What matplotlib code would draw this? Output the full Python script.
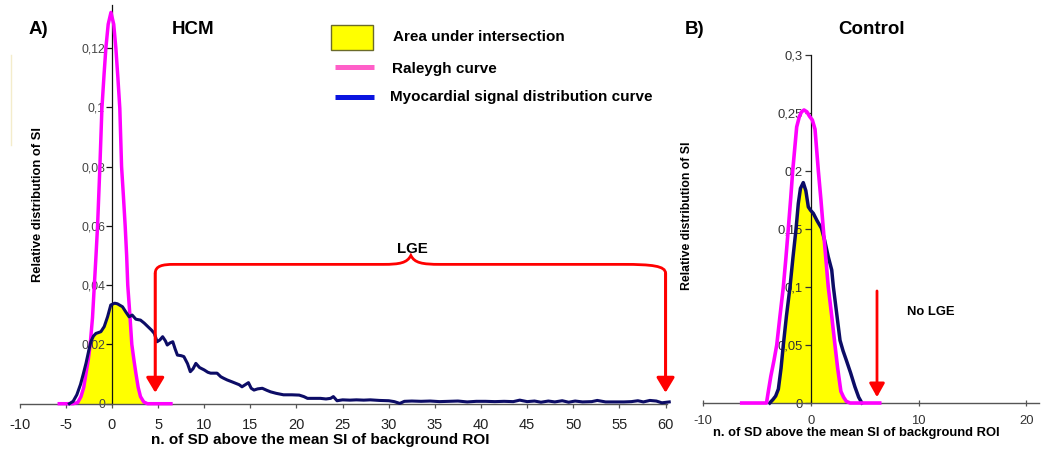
import numpy as np
import matplotlib
matplotlib.use("Agg")
import matplotlib.pyplot as plt
from matplotlib.path import Path
from matplotlib.patches import PathPatch, Rectangle
from matplotlib.lines import Line2D

plt.rcParams['font.family'] = ['Liberation Sans', 'DejaVu Sans']

# ---------------- DATA ----------------
# Panel A (HCM)
hcm_rayleigh_x = [-5.7, -4.2, -3.7, -3.35, -3.05, -2.8, -2.55, -2.35, -2.1, -1.9, -1.72, -1.55,
                  -1.3, -1.08, -0.85, -0.65, -0.4, -0.1, 0.2, 0.43, 0.65, 0.86, 1.05, 1.25,
                  1.44, 1.6, 1.72, 1.95, 2.16, 2.4, 2.6, 2.85, 3.1, 3.45, 3.85, 4.3, 6.4]
hcm_rayleigh_y = [0, 0, 0.0004, 0.0024, 0.0055, 0.0103, 0.015, 0.02, 0.029, 0.04, 0.05, 0.06,
                  0.08, 0.0996, 0.111, 0.12, 0.128, 0.132, 0.128, 0.12, 0.11, 0.0996, 0.08, 0.07,
                  0.06, 0.05, 0.04, 0.03, 0.02, 0.0145, 0.0103, 0.0055, 0.0024, 0.0006, 0, 0, 0]

hcm_myo_x = [-4.6, -4.2, -3.8, -3.4, -3.1, -2.8, -2.5, -2.27, -2.0, -1.73, -1.45, -1.19, -0.83,
             -0.47, -0.12, 0.3, 0.6, 1.15, 1.5, 1.87, 2.2, 2.6, 3.1, 3.5, 3.9, 4.3, 4.6, 4.9,
             5.2, 5.5, 5.8, 6.0, 6.3, 6.6, 6.85, 7.1, 7.5, 7.8, 8.2, 8.5, 8.8, 9.1, 9.5, 10.0,
             10.4, 10.7, 11.1, 11.4, 11.8, 12.1, 12.5, 13.0, 13.4, 13.8, 14.1, 14.5, 14.8,
             15.1, 15.4, 15.8, 16.3, 16.8, 17.2, 17.8, 18.6, 19.5, 20.3, 20.8, 21.2, 22.0,
             22.6, 23.2, 23.7, 24.0, 24.4, 25.0, 25.8, 26.5, 27.3, 28.0, 29.0, 30.0, 30.6,
             31.2, 31.7, 32.5, 33.5, 34.5, 35.5, 36.5, 37.5, 38.5, 39.5, 40.5, 41.5, 42.5,
             43.5, 44.2, 45.0, 45.8, 46.5, 47.3, 48.0, 48.8, 49.5, 50.2, 51.0, 52.0, 52.6,
             53.5, 54.5, 55.5, 56.3, 57.0, 57.6, 58.3, 59.0, 59.6, 60.4]
hcm_myo_y = [0, 0.0008, 0.003, 0.0065, 0.010, 0.0137, 0.018, 0.021, 0.0228, 0.0237, 0.024,
             0.0243, 0.026, 0.0293, 0.0333, 0.0339, 0.0337, 0.0327, 0.031, 0.0293, 0.0299,
             0.0285, 0.0282, 0.0272, 0.026, 0.0248, 0.0237, 0.0209, 0.0215, 0.0226, 0.0212,
             0.0198, 0.0205, 0.0209, 0.0185, 0.0164, 0.0162, 0.0159, 0.0135, 0.0108, 0.0118,
             0.0136, 0.0122, 0.0114, 0.0106, 0.0103, 0.0103, 0.0103, 0.0091, 0.0086, 0.008,
             0.0074, 0.0069, 0.0064, 0.0057, 0.0065, 0.0071, 0.0052, 0.0046, 0.005, 0.0052,
             0.0045, 0.004, 0.0035, 0.003, 0.003, 0.0029, 0.0024, 0.0018, 0.0018, 0.0018,
             0.0016, 0.0018, 0.0024, 0.001, 0.0013, 0.0012, 0.0013, 0.0012, 0.0013, 0.0011,
             0.0010, 0.0007, 0.0001, 0.0008, 0.0009, 0.0008, 0.0009, 0.0007, 0.0008, 0.0009,
             0.0006, 0.0008, 0.0008, 0.0007, 0.0008, 0.0007, 0.0012, 0.0007, 0.0009, 0.0005,
             0.0009, 0.0006, 0.001, 0.0005, 0.0009, 0.0006, 0.0007, 0.0011, 0.0006, 0.0006,
             0.0006, 0.0007, 0.0010, 0.0006, 0.0011, 0.0009, 0.0003, 0.0006]

# Panel B (Control)
ctl_rayleigh_x = [-6.4, -4.1, -3.93, -3.7, -3.4, -3.15, -2.85, -2.54, -2.3, -2.08, -1.85, -1.67,
                  -1.3, -1.05, -0.85, -0.62, -0.35, -0.1, 0.15, 0.4, 0.71, 0.95, 1.17, 1.4,
                  1.63, 1.95, 2.25, 2.5, 2.8, 3.05, 3.3, 3.65, 6.4]
ctl_rayleigh_y = [0, 0, 0.01, 0.023, 0.037, 0.05, 0.075, 0.1, 0.125, 0.15, 0.177, 0.2,
                  0.238, 0.247, 0.251, 0.2526, 0.251, 0.247, 0.244, 0.236, 0.2, 0.175, 0.15,
                  0.125, 0.1, 0.075, 0.05, 0.03, 0.01, 0.005, 0.0015, 0, 0]

ctl_myo_x = [-3.8, -3.5, -3.25, -3.0, -2.75, -2.54, -2.25, -1.92, -1.65, -1.36, -1.15, -0.95,
             -0.69, -0.45, -0.22, 0.0, 0.24, 0.6, 1.0, 1.3, 1.63, 1.95, 2.1, 2.4, 2.72, 3.0,
             3.3, 3.7, 4.1, 4.45, 4.75]
ctl_myo_y = [0, 0.003, 0.006, 0.012, 0.03, 0.05, 0.075, 0.1, 0.125, 0.15, 0.172, 0.185,
             0.19, 0.183, 0.169, 0.166, 0.1635, 0.157, 0.1506, 0.14, 0.126, 0.1147, 0.1003,
             0.078, 0.054, 0.045, 0.037, 0.026, 0.014, 0.005, 0]

# Ticks
a_xticks = list(range(-10, 61, 5))
a_xticklabels = [str(v) for v in a_xticks]
a_yticks = [0, 0.02, 0.04, 0.06, 0.08, 0.1, 0.12]
a_yticklabels = ["0", "0,02", "0,04", "0,06", "0,08", "0,1", "0,12"]
b_xticks = [-10, 0, 10, 20]
b_xticklabels = ["-10", "0", "10", "20"]
b_yticks = [0, 0.05, 0.1, 0.15, 0.2, 0.25, 0.3]
b_yticklabels = ["0", "0,05", "0,1", "0,15", "0,2", "0,25", "0,3"]

# Annotation anchors
lge_left_x, lge_right_x, lge_level, lge_tip_x = 4.7, 60.0, 0.047, 32.4
nolge_x, nolge_top = 6.15, 0.0966

# ---------------- STYLE ----------------
W, H = 1041, 459
MAG = '#ff00ff'
NAVY = '#0c0c66'
YEL = '#ffff00'
RED = '#ff0000'

def fx(px):
    return px / W

def fy(py):
    return 1 - py / H

fig = plt.figure(figsize=(W / 100, H / 100), dpi=100)

# Axes A: x -10..60.2 -> px 19.6..667 ; y 0..0.1345 -> px 403.7..5
axA = fig.add_axes([fx(19.6), fy(403.7), (667.4 - 19.6) / W, (403.7 - 5) / H])
axA.set_xlim(-10, 60.2)
axA.set_ylim(0, 0.1345)

# Axes B: x -10..21.15 -> px 702.9..1038.7 ; y 0..0.3 -> px 403..55
axB = fig.add_axes([fx(702.9), fy(403), (1038.7 - 702.9) / W, (403 - 55) / H])
axB.set_xlim(-10, 21.15)
axB.set_ylim(0, 0.3)

for ax in (axA, axB):
    ax.patch.set_alpha(0)
    ax.spines['top'].set_visible(False)
    ax.spines['right'].set_visible(False)
    ax.spines['left'].set_position(('data', 0))
    ax.spines['left'].set_color('#111111')
    ax.spines['bottom'].set_color('#555555')
    ax.spines['left'].set_linewidth(0.9)
    ax.spines['bottom'].set_linewidth(1.0)

# ---- Panel A ----
xs = np.linspace(-6, 7, 800)
fillA = np.minimum(np.interp(xs, hcm_rayleigh_x, hcm_rayleigh_y),
                   np.interp(xs, hcm_myo_x, hcm_myo_y, left=0, right=0))
axA.fill_between(xs, 0, fillA, color=YEL, lw=0, zorder=1)
axA.plot(hcm_rayleigh_x, hcm_rayleigh_y, color=MAG, lw=2.5, clip_on=False, zorder=3,
         solid_joinstyle='round')
axA.plot(hcm_myo_x, hcm_myo_y, color=NAVY, lw=2.2, clip_on=False, zorder=4,
         solid_joinstyle='round')

axA.set_xticks(a_xticks)
axA.set_xticklabels(a_xticklabels)
axA.set_yticks(a_yticks)
axA.set_yticklabels(a_yticklabels)
axA.tick_params(axis='x', direction='out', length=3, width=0.9, colors='#555555',
                labelsize=10.5, labelcolor='#222222', pad=7)
axA.tick_params(axis='y', direction='out', length=4, width=0.9, colors='#111111',
                labelsize=8.8, labelcolor='#444444', pad=1)

# LGE brace
verts = [(lge_left_x, lge_level - 0.003),
         (lge_left_x, lge_level - 0.0005), (lge_left_x + 0.8, lge_level), (lge_left_x + 2.0, lge_level),
         (lge_tip_x - 3.0, lge_level),
         (lge_tip_x - 1.2, lge_level), (lge_tip_x - 0.4, lge_level + 0.0005), (lge_tip_x, lge_level + 0.0030),
         (lge_tip_x + 0.4, lge_level + 0.0005), (lge_tip_x + 1.2, lge_level), (lge_tip_x + 3.2, lge_level),
         (lge_right_x - 4.6, lge_level),
         (lge_right_x - 1.5, lge_level), (lge_right_x, lge_level - 0.0005), (lge_right_x, lge_level - 0.003)]
codes = [Path.MOVETO,
         Path.CURVE4, Path.CURVE4, Path.CURVE4,
         Path.LINETO,
         Path.CURVE4, Path.CURVE4, Path.CURVE4,
         Path.CURVE4, Path.CURVE4, Path.CURVE4,
         Path.LINETO,
         Path.CURVE4, Path.CURVE4, Path.CURVE4]
axA.add_patch(PathPatch(Path(verts, codes), fill=False, edgecolor=RED, lw=2.0,
                        clip_on=False, zorder=5))
arrow_style = dict(arrowstyle='-|>,head_length=0.75,head_width=0.45', color=RED, lw=2.2,
                   shrinkA=0, shrinkB=0, mutation_scale=12)
for xa in (lge_left_x, lge_right_x):
    axA.annotate('', xy=(xa, 0.0037), xytext=(xa, lge_level - 0.003),
                 arrowprops=arrow_style, zorder=5, annotation_clip=False)
axA.text(lge_tip_x + 0.2, 0.0522, 'LGE', ha='center', va='center',
         fontsize=10.8, fontweight='bold')

# ---- Panel B ----
xsb = np.linspace(-7, 7, 800)
fillB = np.minimum(np.interp(xsb, ctl_rayleigh_x, ctl_rayleigh_y, left=0, right=0),
                   np.interp(xsb, ctl_myo_x, ctl_myo_y, left=0, right=0))
axB.fill_between(xsb, 0, fillB, color=YEL, lw=0, zorder=1)
axB.plot(ctl_myo_x, ctl_myo_y, color=NAVY, lw=2.5, clip_on=False, zorder=3,
         solid_joinstyle='round')
axB.plot(ctl_rayleigh_x, ctl_rayleigh_y, color=MAG, lw=2.6, clip_on=False, zorder=4,
         solid_joinstyle='round')

axB.set_xticks(b_xticks)
axB.set_xticklabels(b_xticklabels)
axB.set_yticks(b_yticks)
axB.set_yticklabels(b_yticklabels)
axB.tick_params(axis='x', direction='inout', length=5, width=0.9, colors='#555555',
                labelsize=9.4, labelcolor='#333333', pad=6)
axB.tick_params(axis='y', direction='out', length=4, width=0.9, colors='#333333',
                labelsize=9.4, labelcolor='#333333', pad=2)

axB.annotate('', xy=(nolge_x, 0.005), xytext=(nolge_x, nolge_top),
             arrowprops=dict(arrowstyle='-|>,head_length=0.75,head_width=0.42', color=RED, lw=2.0,
                             shrinkA=0, shrinkB=0, mutation_scale=11), annotation_clip=False)
fig.text(fx(931), fy(312), 'No LGE', ha='center', va='center', fontsize=9.4, fontweight='bold')

# ---- Titles, labels ----
fig.text(fx(38), fy(30), 'A)', ha='center', va='center', fontsize=13.5, fontweight='bold')
fig.text(fx(193), fy(30), 'HCM', ha='center', va='center', fontsize=13.5, fontweight='bold')
fig.text(fx(695), fy(30), 'B)', ha='center', va='center', fontsize=13.5, fontweight='bold')
fig.text(fx(872), fy(30), 'Control', ha='center', va='center', fontsize=13.5, fontweight='bold')

fig.text(fx(38), fy(205), 'Relative distribution of SI', rotation=90, ha='center', va='center',
         fontsize=9.3, fontweight='bold')
fig.text(fx(320), fy(440), 'n. of SD above the mean SI of background ROI', ha='center',
         va='center', fontsize=11, fontweight='bold')
fig.text(fx(687), fy(216), 'Relative distribution of SI', rotation=90, ha='center', va='center',
         fontsize=8.8, fontweight='bold')
fig.text(fx(856), fy(433), 'n. of SD above the mean SI of background ROI', ha='center',
         va='center', fontsize=9.4, fontweight='bold')

# ---- Legend ----
fig.add_artist(Rectangle((fx(331), fy(50)), (373 - 331) / W, (50 - 25) / H,
                         transform=fig.transFigure, facecolor=YEL, edgecolor='#6b6b2a', lw=1))
fig.add_artist(Line2D([fx(335), fx(374)], [fy(67), fy(67)], transform=fig.transFigure,
                      color='#ff5fc8', lw=3.6, solid_capstyle='butt'))
fig.add_artist(Line2D([fx(335), fx(374)], [fy(97), fy(97)], transform=fig.transFigure,
                      color='#0a14e0', lw=3.6, solid_capstyle='butt'))
fig.text(fx(393), fy(37), 'Area under intersection', ha='left', va='center', fontsize=11,
         fontweight='bold')
fig.text(fx(392), fy(69), 'Raleygh curve', ha='left', va='center', fontsize=11,
         fontweight='bold')
fig.text(fx(390), fy(97), 'Myocardial signal distribution curve', ha='left', va='center',
         fontsize=11, fontweight='bold')

# faint artefact line at far left
fig.add_artist(Line2D([fx(11), fx(11)], [fy(55), fy(145)], transform=fig.transFigure,
                      color='#f4eccb', lw=1))

fig.savefig('out.png', dpi=100)
